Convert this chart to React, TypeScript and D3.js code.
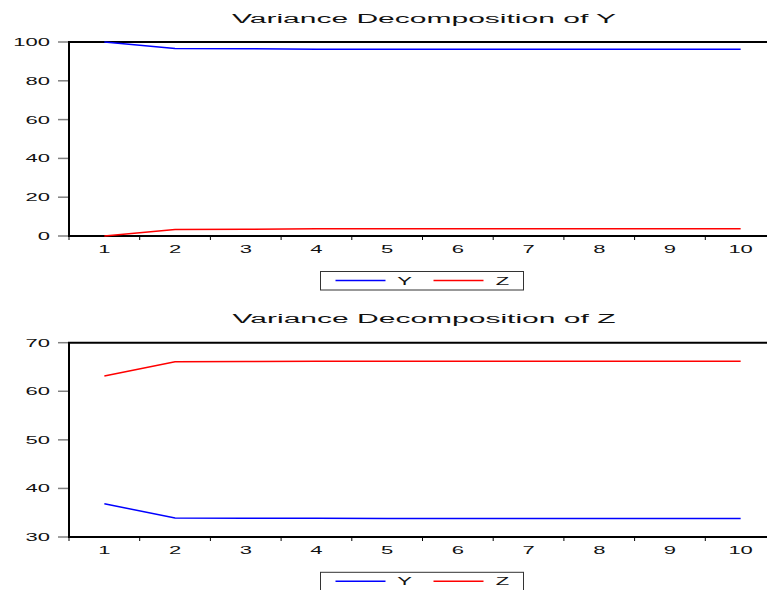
import React, { useEffect, useRef } from 'react';
import * as d3 from 'd3';

const periods = [1, 2, 3, 4, 5, 6, 7, 8, 9, 10];
// Variance Decomposition of Y
const yOnY = [100, 96.6, 96.55, 96.3, 96.28, 96.27, 96.27, 96.27, 96.27, 96.27];
const zOnY = [0, 3.4, 3.45, 3.7, 3.72, 3.73, 3.73, 3.73, 3.73, 3.73];
// Variance Decomposition of Z
const yOnZ = [36.85, 33.9, 33.86, 33.84, 33.83, 33.83, 33.83, 33.83, 33.83, 33.83];
const zOnZ = [63.15, 66.1, 66.14, 66.16, 66.17, 66.17, 66.17, 66.17, 66.17, 66.17];
const ticksY = [0, 20, 40, 60, 80, 100];
const ticksZ = [30, 40, 50, 60, 70];
const seriesNames = ['Y', 'Z'];

const C = { blue: '#0000ff', red: '#ff0000', axis: '#000', tick: '#808080', text: '#111' };
const FONT = 'Arial, "Liberation Sans", sans-serif';

// EViews-style horizontally stretched text
function stretch(sel: any, k: number) {
  sel.each(function (this: any) {
    const n = this.getComputedTextLength();
    d3.select(this).attr('textLength', n * k).attr('lengthAdjust', 'spacingAndGlyphs');
  });
}

function panel(svg: any, o: any) {
  const x = d3.scaleBand<number>().domain(periods).range([69, 776]).padding(0);
  const y = d3.scaleLinear().domain(o.domain).range([o.bottom, o.top]);
  const g = svg.append('g');

  g.append('text').text(o.title).attr('x', 424).attr('y', o.top - 19.5)
    .attr('text-anchor', 'middle').attr('font-size', 12).attr('font-family', FONT).attr('fill', C.text)
    .call(stretch, 2.5);

  // y ticks + labels
  o.ticks.forEach((t: number) => {
    g.append('line').attr('x1', 58).attr('x2', 69).attr('y1', y(t)).attr('y2', y(t))
      .attr('stroke', C.tick).attr('stroke-width', 1.5);
    g.append('text').text(t).attr('x', 50).attr('y', y(t) + 4).attr('text-anchor', 'end')
      .attr('font-size', 11).attr('font-family', FONT).attr('fill', C.text).call(stretch, 2);
  });

  // x ticks at band edges + labels at centers
  periods.forEach(p => {
    g.append('line').attr('x1', x(p)!).attr('x2', x(p)!).attr('y1', o.bottom).attr('y2', o.bottom + 4)
      .attr('stroke', C.axis).attr('stroke-width', 1);
    g.append('text').text(p).attr('x', x(p)! + x.bandwidth() / 2).attr('y', o.bottom + 16.5)
      .attr('text-anchor', 'middle').attr('font-size', 11).attr('font-family', FONT).attr('fill', C.text)
      .call(stretch, 2);
  });

  // frame (top, left, bottom)
  g.append('path').attr('d', `M776,${o.top}H69V${o.bottom}H776`).attr('fill', 'none')
    .attr('stroke', C.axis).attr('stroke-width', 2);

  const line = d3.line<number>().x((d, i) => x(periods[i])! + x.bandwidth() / 2).y(d => y(d));
  [o.a, o.b].forEach((s: number[], i: number) => {
    g.append('path').datum(s).attr('d', line).attr('fill', 'none')
      .attr('stroke', i ? C.red : C.blue).attr('stroke-width', 1.5);
  });

  // legend
  const lg = g.append('g').attr('transform', `translate(320.5,${o.legendTop})`);
  lg.append('rect').attr('width', 203).attr('height', 18.5).attr('fill', '#fff')
    .attr('stroke', '#333').attr('stroke-width', 1);
  seriesNames.forEach((n, i) => {
    const ox = 15 + i * 98;
    lg.append('line').attr('x1', ox).attr('x2', ox + 50).attr('y1', 9).attr('y2', 9)
      .attr('stroke', i ? C.red : C.blue).attr('stroke-width', 1.5);
    lg.append('text').text(n).attr('x', ox + 69).attr('y', 13).attr('text-anchor', 'middle')
      .attr('font-size', 11).attr('font-family', FONT).attr('fill', C.text).call(stretch, 2);
  });
}

export default function App() {
  const ref = useRef<SVGSVGElement>(null);
  useEffect(() => {
    const svg = d3.select(ref.current);
    svg.selectAll('*').remove();
    svg.append('rect').attr('width', 767).attr('height', 590).attr('fill', '#fff');
    panel(svg, { title: 'Variance Decomposition of Y', domain: [0, 100], ticks: ticksY, top: 42, bottom: 236, a: yOnY, b: zOnY, legendTop: 271.5 });
    panel(svg, { title: 'Variance Decomposition of Z', domain: [30, 70], ticks: ticksZ, top: 342.7, bottom: 537, a: yOnZ, b: zOnZ, legendTop: 572.3 });
  }, []);
  return (
    <svg ref={ref} width={767} height={590} style={{ position: 'absolute', left: 0, top: 0, display: 'block' }} />
  );
}
